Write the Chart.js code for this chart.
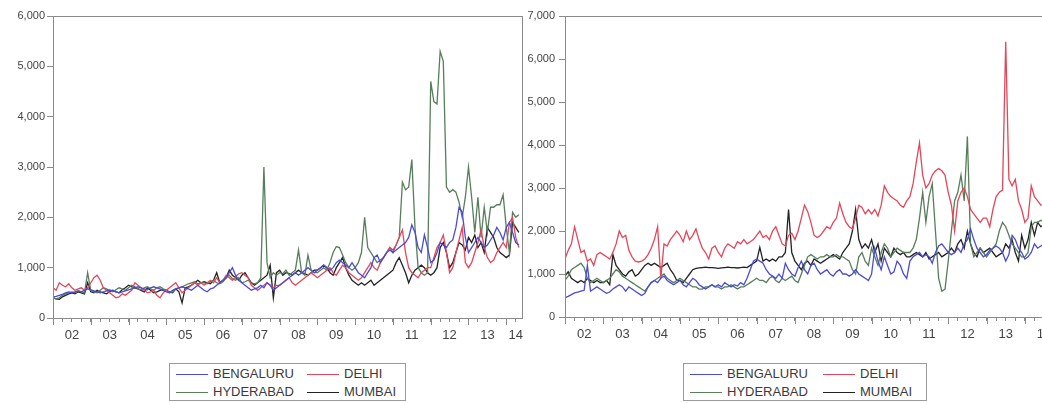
<!DOCTYPE html>
<html>
<head>
<meta charset="utf-8">
<script src="https://cdn.jsdelivr.net/npm/chart.js@4.4.0/dist/chart.umd.min.js"></script>
<style>
html, body { margin: 0; padding: 0; background: #fff; width: 1042px; height: 403px; overflow: hidden; position: relative; }
#leftWrap { position: absolute; left: 0; top: 0; }
#rightWrap { position: absolute; left: 523px; top: 0; background: #fff; }
.legend { position: absolute; top: 363px; height: 38px; border: 1px solid #9a9a9a; box-sizing: border-box;
  font-family: 'Liberation Sans', Arial, sans-serif; font-size: 13px; color: #3a3a3a; background: #fff; }
.item { position: absolute; height: 16px; line-height: 16px; white-space: nowrap; }
.item i { display: inline-block; width: 32px; height: 0; border-top: 1px solid; vertical-align: middle; margin-right: 5px; }
</style>
</head>
<body>
<div id="leftWrap"><canvas id="leftChart" width="523" height="345"></canvas></div>
<div id="rightWrap"><canvas id="rightChart" width="540" height="345"></canvas></div>
<div class="legend" id="legendLeft" style="left:169px; width:237px;"></div>
<div class="legend" id="legendRight" style="left:683px; width:244px;"></div>
<script>
// monthly series, Jan 2002 onward
const seriesNames = ['BENGALURU', 'DELHI', 'HYDERABAD', 'MUMBAI'];
const seriesColors = ['#4b4bd6', '#e3475a', '#567e5a', '#222222'];
const yearLabels = ['02', '03', '04', '05', '06', '07', '08', '09', '10', '11', '12', '13', '14'];

// left panel
const leftBengaluru = [
  420,430,450,470,500,520,500,520,540,520,550,580,
  560,540,520,500,520,540,560,540,520,500,520,540,
  560,580,600,620,600,580,560,600,620,600,580,550,
  520,500,550,580,600,620,600,580,550,600,650,600,
  550,520,580,600,650,700,750,800,900,1000,850,750,
  700,650,600,550,580,600,650,600,700,650,550,600,
  650,700,750,800,850,900,850,900,950,1000,950,900,
  950,1000,1050,1000,950,1000,1100,1150,1100,1050,1000,1100,
  1000,900,850,800,900,1000,1200,1250,1100,1200,1300,1350,
  1300,1350,1400,1450,1500,1600,1850,1700,1400,1300,1650,1400,
  1100,1150,1300,1500,1450,1400,1500,1550,1800,2200,2100,1600,
  1300,1400,1500,1600,1500,1400,1450,1550,1650,1800,1700,1550,
  1800,1900,1700,1500,1450
];
const leftDelhi = [
  600,550,700,650,620,680,600,550,580,600,550,600,
  700,800,850,750,600,550,500,450,400,420,480,450,
  500,550,700,650,600,550,500,520,550,450,400,500,
  550,600,650,700,600,500,550,600,650,700,650,700,
  650,700,750,700,800,700,750,850,800,750,820,880,
  900,850,800,650,600,550,600,650,700,650,600,650,
  650,700,750,800,700,650,700,750,800,850,900,850,
  800,850,900,950,1000,900,850,950,1050,1000,900,850,
  800,750,800,900,1000,1100,1000,950,1100,1200,1300,1400,
  1300,1450,1600,1750,1300,1000,900,850,800,900,950,1000,
  1000,1200,1400,1500,1650,1300,900,1000,1300,1550,1800,1100,
  1000,1100,1300,1500,1750,1400,1200,1100,1150,1300,1400,1500,
  1400,1900,2000,1600,1400
];
const leftHyderabad = [
  400,380,400,450,480,500,520,500,540,520,500,900,
  550,520,500,550,600,580,550,520,560,600,580,550,
  600,650,620,580,560,600,620,580,550,600,620,580,
  550,500,520,580,600,620,650,680,700,720,680,700,
  700,680,720,750,700,680,720,800,850,780,750,800,
  700,720,750,700,680,700,800,3000,1100,800,900,850,
  900,880,950,850,900,950,1350,900,850,1250,950,900,
  900,950,1000,950,1100,1300,1420,1400,1250,1100,1000,950,
  1000,1100,1300,2000,1400,1300,1200,1100,1150,1200,1300,1400,
  1350,1450,1600,2700,2550,2600,3150,1800,1000,900,850,900,
  4700,4300,4250,5300,5100,2600,2500,2550,2500,2300,2000,2400,
  3000,2400,1700,2400,1600,2200,1700,2200,2200,2250,2250,2450,
  1800,1300,2100,2000,2050
];
const leftMumbai = [
  400,380,370,420,450,480,500,480,520,500,480,700,
  520,500,550,520,500,480,520,550,520,500,560,600,
  650,620,600,580,550,520,600,550,500,520,550,560,
  550,520,500,580,520,300,600,620,650,700,750,700,
  720,700,680,750,900,700,750,800,950,850,800,750,
  850,900,800,700,650,700,750,800,850,1050,400,900,
  950,850,900,880,850,900,950,900,880,850,900,950,
  950,1000,1050,1000,900,850,1000,1100,1200,1000,850,750,
  700,650,700,650,700,750,650,700,750,800,850,900,
  950,1100,1200,1050,900,700,850,950,1000,1050,1000,900,
  850,900,1000,1400,1500,1300,1000,1100,1300,1500,1450,1350,
  1600,1500,1650,1400,1500,1300,1800,1700,1600,1400,1300,1250,
  1200,1250,1900,1800,1700
];

// right panel
const rightBengaluru = [
  450,480,520,560,580,600,620,1200,600,650,700,650,
  600,550,580,650,700,750,700,600,700,650,600,550,
  500,550,700,800,850,800,900,950,850,800,750,800,
  850,750,700,800,900,850,750,700,650,700,750,700,
  750,700,800,750,700,750,720,800,750,900,1100,1300,
  1350,1300,1250,1100,1000,950,900,1000,900,1250,1100,1000,
  950,1150,1300,1100,1000,1200,1250,1100,1000,1050,1100,1000,
  950,1050,1100,1000,1000,950,1000,1100,1000,950,900,850,
  1000,1600,1300,1100,1400,1200,1000,1050,1300,1200,1000,900,
  1300,1400,1450,1500,1400,1450,1400,1250,1500,1650,1700,1600,
  1500,1450,1500,1600,1500,1700,1800,2050,1800,1600,1500,1400,
  1450,1550,1600,1650,1600,1500,1300,1450,1900,1800,1600,1500,
  1350,1400,1500,1700,1600,1650,1700
];
const rightDelhi = [
  1350,1550,1700,2100,1800,1500,1550,1300,1350,1200,1450,1500,
  1450,1400,1350,1500,1700,2000,1850,1900,1550,1400,1300,1280,
  1300,1350,1450,1600,1800,2100,900,1700,1650,1800,1900,2000,
  1900,1750,2000,1800,1900,2050,1800,1600,1500,1350,1600,1650,
  1500,1400,1600,1700,1650,1600,1750,1700,1800,1700,1750,1800,
  1900,2000,1850,1900,1800,2000,2100,1900,1700,1650,1900,1950,
  1800,2000,2300,2600,2450,2200,1900,1850,1900,2000,2100,2050,
  2200,2300,2650,2400,2200,2100,2050,2300,2600,2550,2400,2500,
  2400,2500,2350,2600,3050,2900,2800,2750,2700,2600,2550,2700,
  2800,3100,3600,4050,3300,3000,3100,3300,3400,3450,3400,3300,
  2900,2600,2000,2700,2900,3000,2800,2500,2400,2300,2200,2300,
  2300,2100,2500,2800,2900,2950,6400,3200,3050,3200,2700,2500,
  2200,2300,3050,2800,2700,2600,2600
];
const rightHyderabad = [
  850,950,1100,1150,1200,1250,1150,900,800,850,900,850,
  800,850,900,1000,1100,1050,950,900,850,800,750,700,
  650,600,700,800,850,900,950,1000,900,850,800,850,
  900,850,800,750,700,700,650,650,700,700,750,700,
  700,650,700,700,750,700,650,700,700,750,800,850,
  900,850,850,800,900,950,850,800,900,850,900,950,
  850,800,1000,1200,1400,1450,1400,1350,1400,1400,1450,1400,
  1400,1450,1400,1400,1350,1300,1100,1000,1400,1500,1300,1200,
  1600,1400,1200,1500,1700,1600,1400,1500,1600,1550,1500,1500,
  1500,1600,1800,2300,2900,2200,2800,3100,2000,900,600,650,
  1300,2000,2700,2900,3300,2700,4200,1700,1400,1500,1600,1500,
  1400,1500,1600,1700,2000,2200,2100,1900,1700,1600,1500,1400,
  1400,1500,2100,2200,2200,2250,2200
];
const rightMumbai = [
  950,1050,900,850,800,850,800,900,850,800,850,800,
  800,850,750,1450,1200,1100,1000,950,1050,1100,950,1000,
  1100,1200,1250,1200,1250,1200,1150,1200,1250,1100,1000,850,
  850,800,900,1000,1100,1130,1140,1150,1160,1150,1150,1140,
  1130,1140,1150,1160,1150,1150,1140,1150,1160,1150,1200,1250,
  1300,1620,1300,1350,1300,1350,1300,1400,1400,1500,2500,1500,
  1300,1200,1100,1250,1300,1200,1350,1300,1250,1300,1350,1400,
  1450,1400,1350,1500,1600,1700,2000,2500,1800,1600,1700,1600,
  1800,1500,1700,1300,1600,1500,1400,1600,1500,1450,1500,1400,
  1400,1450,1500,1450,1400,1500,1350,1400,1450,1500,1400,1450,
  1500,1600,1500,1700,1800,1600,2000,1700,1500,1400,1600,1500,
  1550,1600,1500,1400,1450,1500,1700,1600,1800,1500,1300,1900,
  1600,1800,2200,1900,2200,2100,2150
];

const axisGray = '#8a8a8a';
Chart.defaults.font.family = "'Liberation Sans', Arial, sans-serif";
Chart.defaults.color = '#444';

// box round the plot, longer ticks at year starts
const framePlugin = {
    id: 'frame',
    afterDraw(chart) {
        const ctx = chart.ctx;
        const a = chart.chartArea;
        const xs = chart.scales.x;
        ctx.save();
        ctx.strokeStyle = axisGray;
        ctx.lineWidth = 1;
        ctx.strokeRect(Math.round(a.left) + 0.5, Math.round(a.top) + 0.5,
            Math.round(a.right - a.left), Math.round(a.bottom - a.top));
        ctx.beginPath();
        for (let m = 0; m <= xs.max; m += 12) {
            const px = Math.round(xs.getPixelForValue(m)) + 0.5;
            ctx.moveTo(px, a.bottom);
            ctx.lineTo(px, a.bottom + 7);
        }
        ctx.stroke();
        ctx.restore();
    }
};

function makeChart(id, data, cfg) {
    const datasets = data.map((vals, i) => ({
        label: seriesNames[i],
        data: vals.map((v, m) => ({ x: m, y: v })),
        borderColor: seriesColors[i],
        borderWidth: 1.3,
        pointRadius: 0,
        tension: 0,
        fill: false
    }));
    return new Chart(document.getElementById(id), {
        type: 'line',
        data: { datasets: datasets },
        options: {
            responsive: false,
            animation: false,
            events: [],
            layout: { padding: { top: 16, right: cfg.padRight, left: 0, bottom: 0 } },
            plugins: { legend: { display: false }, tooltip: { enabled: false } },
            scales: {
                x: {
                    type: 'linear',
                    min: 0,
                    max: cfg.xMax,
                    grid: { drawOnChartArea: false, tickLength: 4, color: axisGray },
                    border: { color: axisGray },
                    ticks: {
                        autoSkip: false,
                        maxRotation: 0,
                        minRotation: 0,
                        padding: 6,
                        font: { size: 13 },
                        color: '#444',
                        callback: function(v) {
                            if (v === cfg.lastLabelAt) return yearLabels[12];
                            if (v % 12 === 6 && v < 144) return yearLabels[(v - 6) / 12];
                            return '';
                        }
                    },
                    afterBuildTicks: function(s) {
                        const t = [];
                        for (let m = 0; m <= cfg.xMax; m += 3) t.push({ value: m });
                        s.ticks = t;
                    },
                    afterFit: function(s) {
                        s.height = cfg.xAxisH;
                        s.paddingLeft = 0;
                        s.paddingRight = 0;
                    }
                },
                y: {
                    min: 0,
                    max: cfg.yMax,
                    grid: { drawOnChartArea: false, tickLength: 6, color: axisGray },
                    border: { color: axisGray },
                    ticks: {
                        stepSize: 1000,
                        padding: cfg.yPad,
                        font: { size: 11 },
                        color: '#444',
                        callback: v => v.toLocaleString('en-US')
                    },
                    afterFit: function(s) {
                        s.width = cfg.yAxisW;
                        s.paddingTop = 0;
                        s.paddingBottom = 0;
                    }
                }
            }
        },
        plugins: [framePlugin]
    });
}

function makeLegend(id, col2) {
    const box = document.getElementById(id);
    seriesNames.forEach((name, i) => {
        const el = document.createElement('div');
        el.className = 'item';
        el.style.left = (i % 2 === 0 ? 6 : col2) + 'px';
        el.style.top = (i < 2 ? 2 : 20) + 'px';
        el.innerHTML = '<i style="border-color:' + seriesColors[i] + '"></i>' + name;
        box.appendChild(el);
    });
}

// legend order: row 1 Bengaluru, Delhi; row 2 Hyderabad, Mumbai
makeChart('leftChart', [leftBengaluru, leftDelhi, leftHyderabad, leftMumbai],
    { xMax: 149, yMax: 6000, yAxisW: 53, yPad: 2, xAxisH: 27, padRight: 1, lastLabelAt: 147 });
makeChart('rightChart', [rightBengaluru, rightDelhi, rightHyderabad, rightMumbai],
    { xMax: 155, yMax: 7000, yAxisW: 42, yPad: 4, xAxisH: 28, padRight: 3, lastLabelAt: 150 });
makeLegend('legendLeft', 137);
makeLegend('legendRight', 139);
</script>
</body>
</html>
